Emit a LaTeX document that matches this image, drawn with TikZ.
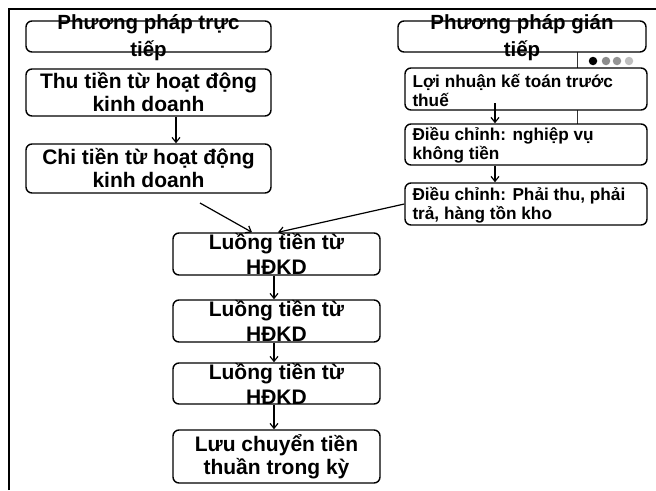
\documentclass[tikz,border=0pt]{standalone}
\usepackage{fontspec}
\setmainfont{Liberation Sans}
\usetikzlibrary{arrows.meta}
\tikzset{
  box/.style={draw, rounded corners=6pt, line width=1.4pt, fill=white, inner sep=0pt},
  bigtxt/.style={font=\fontsize{21}{23}\selectfont\bfseries, align=center, inner sep=0pt},
  titletxt/.style={font=\fontsize{20.5}{27}\selectfont\bfseries, align=center, inner sep=0pt},
  flowtxt/.style={font=\fontsize{21}{25}\selectfont\bfseries, align=center, inner sep=0pt},
  smalltxt/.style={font=\fontsize{17.2}{19}\selectfont\bfseries, align=left, inner sep=0pt},
  arr/.style={line width=1.2pt, -{Straight Barb[length=5pt,width=8pt,line width=1.2pt]}},
  frame/.style={line width=2.5pt},
  dot/.style={circle, inner sep=0pt, minimum size=8.5pt}
}
\begin{document}
\begin{tikzpicture}[x=1pt,y=-1pt]
\useasboundingbox (0,0) rectangle (656,490);
% frame
\draw[frame] (9,490) -- (9,9) -- (656,9);
% decorative gray line and dots
\draw[line width=0.8pt, black!80] (577,40) -- (577,135);
\node[dot, fill=black] (d1) at (593,61) {};
\node[dot, fill=black!45] (d2) at (606,61) {};
\node[dot, fill=black!42] (d3) at (617,61) {};
\node[dot, fill=black!25] (d4) at (629,61) {};
% left column
\node[box, minimum width=245pt, minimum height=31pt] (A) at (148.5,36.5) {};
\node[titletxt] (At) at ([yshift=-1pt]A.center) {Phương pháp trực\\tiếp};
\node[box, minimum width=245pt, minimum height=47pt] (B) at (148.5,92.5) {};
\node[bigtxt] (Bt) at (B.center) {Thu tiền từ hoạt động\\kinh doanh};
\node[box, minimum width=245pt, minimum height=49pt] (C) at (148.5,168.5) {};
\node[bigtxt] (Ct) at (C.center) {Chi tiền từ hoạt động\\kinh doanh};
% right column
\node[box, minimum width=248pt, minimum height=31pt] (D) at (522,36.5) {};
\node[titletxt] (Dt) at ([yshift=-1pt]D.center) {Phương pháp gián\\tiếp};
\node[box, minimum width=242pt, minimum height=42pt] (E) at (526,89) {};
\node[smalltxt, anchor=west] (Et) at ([xshift=8pt,yshift=-1pt]E.west) {Lợi nhuận kế toán trước\\thuế};
\node[box, minimum width=242pt, minimum height=41pt] (F) at (526,144.5) {};
\node[smalltxt, anchor=west] (Ft) at ([xshift=8pt,yshift=-1pt]F.west) {Điều chỉnh: nghiệp vụ\\không tiền};
\node[box, minimum width=242pt, minimum height=42pt] (G) at (526,204) {};
\node[smalltxt, anchor=west] (Gt) at ([xshift=8pt,yshift=-1pt]G.west) {Điều chỉnh: Phải thu, phải\\trả, hàng tồn kho};
% center column
\node[box, minimum width=207pt, minimum height=42pt] (H1) at (276.5,254) {};
\node[flowtxt] (H1t) at (H1.center) {Luồng tiền từ\\HĐKD};
\node[box, minimum width=207pt, minimum height=42pt] (H2) at (276.5,321) {};
\node[flowtxt] (H2t) at (H2.center) {Luồng tiền từ\\HĐKD};
\node[box, minimum width=207pt, minimum height=41pt] (H3) at (276.5,383.5) {};
\node[flowtxt] (H3t) at (H3.center) {Luồng tiền từ\\HĐKD};
\node[box, minimum width=207pt, minimum height=53pt] (L) at (276.5,456.5) {};
\node[bigtxt] (Lt) at (L.center) {Lưu chuyển tiền\\thuần trong kỳ};
% connectors
\coordinate (xb) at (176,0);
\coordinate (xe) at (495,0);
\coordinate (xh) at (274,0);
\coordinate (c1) at (200,203);
\coordinate (e1) at (495,103);
\coordinate (h1a) at (252,0);
\coordinate (h1b) at (278,0);
\draw[arr] (B.south -| xb) -- (C.north -| xb);
\draw[arr] (c1) -- (H1.north -| h1a);
\draw[arr] (G.west) -- (H1.north -| h1b);
\draw[arr] (e1) -- (F.north -| xe);
\draw[arr] (F.south -| xe) -- (G.north -| xe);
\draw[arr] (H1.south -| xh) -- (H2.north -| xh);
\draw[arr] (H2.south -| xh) -- (H3.north -| xh);
\draw[arr] (H3.south -| xh) -- (L.north -| xh);
\end{tikzpicture}
\end{document}
